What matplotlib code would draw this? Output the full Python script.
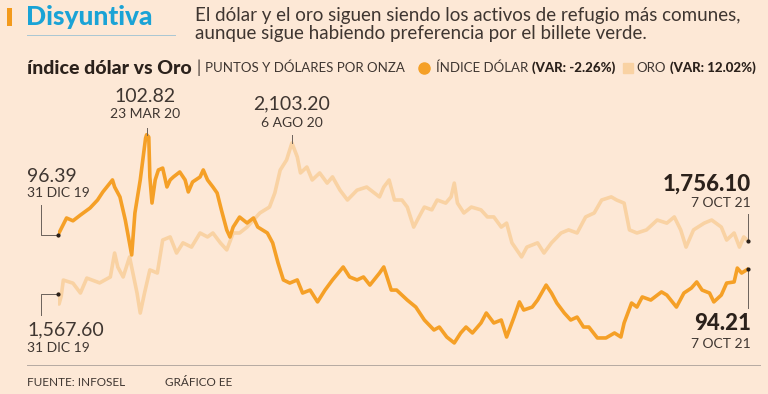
import numpy as np
import matplotlib
matplotlib.use('Agg')
import matplotlib.pyplot as plt

# dias desde el 31 dic 2019
inicio = np.datetime64('2019-12-31')

dolar_dias = [0, 8, 14, 21, 30, 37, 42, 51, 53, 58, 63, 69, 72, 77, 82, 83, 85, 86, 88, 91, 94,
              98, 102, 105, 108, 114, 119, 122, 126, 133, 136, 140, 145, 149, 153, 158, 161,
              164, 170, 177, 183, 187, 196, 201, 206, 211, 217, 224, 229, 236, 243, 250, 257,
              267, 273, 280, 286, 292, 301, 305, 312, 317, 327, 335, 343, 352, 357, 364, 371,
              377, 382, 388, 396, 401, 408, 415, 420, 427, 432, 436, 444, 449, 457, 462, 467,
              474, 480, 486, 492, 497, 505, 513, 521, 527, 530, 537, 542, 547, 555, 565, 570,
              579, 586, 593, 598, 603, 610, 614, 621, 626, 633, 636, 640, 646]
dolar_vals = [96.39, 97.48, 97.30, 97.67, 98.12, 98.63, 99.15, 99.92, 99.47, 98.83, 97.35, 95.11,
              97.80, 99.92, 102.60, 102.82, 102.67, 100.10, 98.44, 99.92, 100.56, 100.68, 99.47, 99.92,
              100.11, 100.43, 99.92, 99.15, 99.79, 100.11, 100.56, 99.92, 99.47, 99.08, 97.99,
              96.71, 96.26, 96.90, 97.54, 97.16, 97.48, 96.90, 96.52, 95.88, 94.60, 93.51, 93.31,
              93.51, 92.67, 92.86, 92.10, 92.86, 93.51, 94.34, 93.70, 93.51, 93.70, 93.18, 93.95,
              94.34, 92.86, 92.86, 92.22, 91.77, 90.94, 90.30, 90.49, 89.85, 89.47, 90.11, 90.49,
              90.11, 90.75, 91.39, 90.75, 90.94, 89.85, 91.13, 92.10, 91.58, 91.77, 92.22, 93.18,
              92.67, 92.03, 91.39, 90.94, 91.13, 90.49, 90.49, 89.79, 89.79, 90.11, 89.85, 90.75,
              92.03, 91.77, 92.42, 92.22, 92.74, 92.54, 91.77, 92.67, 92.99, 93.38, 92.86, 92.67,
              92.10, 92.54, 93.31, 93.38, 94.27, 93.95, 94.21]

oro_dias = [0, 1, 3, 5, 14, 21, 27, 39, 49, 53, 56, 61, 67, 74, 77, 81, 86, 93, 98, 105, 111,
            117, 125, 133, 140, 145, 152, 158, 164, 170, 177, 183, 189, 198, 203, 208, 214, 219,
            224, 227, 233, 238, 245, 252, 257, 264, 271, 280, 289, 301, 305, 310, 315, 322, 327,
            333, 338, 343, 350, 355, 363, 368, 371, 374, 380, 387, 396, 402, 408, 415, 420, 425,
            434, 439, 449, 455, 462, 471, 478, 486, 494, 502, 509, 518, 523, 530, 535, 542, 551,
            561, 570, 577, 583, 588, 595, 605, 612, 621, 626, 633, 638, 642, 646]
oro_vals = [1567.6, 1532, 1560, 1617, 1606, 1571, 1624, 1607, 1628, 1713, 1663, 1628, 1699, 1571,
            1500, 1571, 1653, 1642, 1759, 1770, 1713, 1749, 1734, 1784, 1770, 1784, 1749, 1724,
            1784, 1784, 1805, 1830, 1855, 1876, 1926, 2007, 2043, 2103.2, 2054, 1997, 2018, 1972,
            1997, 1961, 1983, 1936, 1901, 1936, 1947, 1912, 1947, 1972, 1901, 1901, 1876, 1805,
            1841, 1876, 1866, 1901, 1890, 1912, 1961, 1890, 1855, 1876, 1866, 1841, 1841, 1805,
            1819, 1749, 1699, 1734, 1749, 1713, 1749, 1784, 1795, 1784, 1841, 1855, 1901, 1912,
            1901, 1890, 1795, 1784, 1795, 1830, 1819, 1841, 1795, 1734, 1795, 1819, 1830, 1805,
            1759, 1784, 1734, 1770, 1756.1]

fondo = '#fde8d6'
naranja = '#f5a027'
claro = '#f9d2a3'
oscuro = '#2b211b'
gris = '#3f3631'
W, H = 768, 394

dolar_x = inicio + np.array(dolar_dias, dtype='timedelta64[D]')
oro_x = inicio + np.array(oro_dias, dtype='timedelta64[D]')

fig = plt.figure(figsize=(W / 100, H / 100), dpi=100, facecolor=fondo)
plt.rcParams['font.family'] = ['Lato', 'DejaVu Sans']
rend = fig.canvas.get_renderer()

def fx(x):
    return x / W

def fy(y):
    return 1 - y / H

# ejes: oro detras, dolar delante
pos = [fx(58), fy(350), 690 / W, 230 / H]
ax_oro = fig.add_axes(pos)
ax = fig.add_axes(pos)
for a in (ax, ax_oro):
    a.set_facecolor('none')
    a.axis('off')
    a.set_xlim(inicio, oro_x[-1])
ax.set_ylim(89.018, 103.762)
ax_oro.set_ylim(1368.95, 2184.8)

ax_oro.plot(oro_x, oro_vals, color=claro, lw=2.6, solid_joinstyle='round')
ax.plot(dolar_x, dolar_vals, color=naranja, lw=2.6, solid_joinstyle='round')

def a_px(a, x, y):
    px, py = a.transData.transform((matplotlib.dates.date2num(x), y))
    return px, H - py

def linea(pts, color='#6b615b'):
    xs = [fx(p[0]) for p in pts]
    ys = [fy(p[1]) for p in pts]
    fig.add_artist(plt.Line2D(xs, ys, color=color, lw=0.7))

def punto(x, y):
    fig.add_artist(plt.Line2D([fx(x)], [fy(y)], marker='o', ms=2, color=oscuro, lw=0))

def cadena(x, y, piezas):
    # coloca textos uno tras otro
    for txt, kw, gap in piezas:
        t = fig.text(fx(x), fy(y), txt, va='center', **kw)
        x = t.get_window_extent(rend).x1 + gap

# anotaciones
x0, y0 = a_px(ax, dolar_x[0], dolar_vals[0])
linea([(40.5, 205), (40.5, y0), (x0, y0)])
punto(x0, y0)
fig.text(fx(27), fy(176), '96.39', fontsize=14, color=gris, va='center')
fig.text(fx(27), fy(193), '31 DIC 19', fontsize=10, color=gris, va='center')

x0, y0 = a_px(ax_oro, oro_x[0], oro_vals[0])
linea([(x0, y0), (40.5, y0), (40.5, 315)])
punto(x0, y0)
fig.text(fx(27), fy(330), '1,567.60', fontsize=14, color=gris, va='center')
fig.text(fx(27), fy(348), '31 DIC 19', fontsize=10, color=gris, va='center')

i = int(np.argmax(dolar_vals))
xp, yp = a_px(ax, dolar_x[i], dolar_vals[i])
linea([(xp, 128), (xp, yp)])
fig.text(fx(145), fy(96), '102.82', fontsize=14, color=gris, ha='center', va='center')
fig.text(fx(145), fy(114), '23 MAR 20', fontsize=10, color=gris, ha='center', va='center')

i = int(np.argmax(oro_vals))
xp, yp = a_px(ax_oro, oro_x[i], oro_vals[i])
linea([(xp, 135), (xp, yp)])
fig.text(fx(292), fy(104), '2,103.20', fontsize=14, color=gris, ha='center', va='center')
fig.text(fx(292), fy(123), '6 AGO 20', fontsize=10, color=gris, ha='center', va='center')

xe, ye = a_px(ax_oro, oro_x[-1], oro_vals[-1])
linea([(xe, 214), (xe, ye)])
punto(xe, ye)
fig.text(fx(751), fy(184), '1,756.10', fontsize=16, color=oscuro, weight='black', ha='right', va='center')
fig.text(fx(751), fy(203), '7 OCT 21', fontsize=10, color=gris, ha='right', va='center')

xe, ye = a_px(ax, dolar_x[-1], dolar_vals[-1])
linea([(xe, ye), (xe, 308)])
punto(xe, ye)
fig.text(fx(751), fy(324), '94.21', fontsize=16, color=oscuro, weight='black', ha='right', va='center')
fig.text(fx(751), fy(344), '7 OCT 21', fontsize=10, color=gris, ha='right', va='center')

# titulo
fig.add_artist(plt.Rectangle((fx(7), fy(26)), 5 / W, 18 / H, color='#f39a1c', lw=0))
fig.text(fx(26), fy(17), 'Disyuntiva', fontsize=19, weight='black', color='#1aa3d6', va='center')
linea([(27, 35), (175, 35)], color='#a9c6d3')
fig.text(fx(195), fy(15), 'El dólar y el oro siguen siendo los activos de refugio más comunes,',
         fontsize=13.5, color=gris, va='center')
fig.text(fx(195), fy(34), 'aunque sigue habiendo preferencia por el billete verde.',
         fontsize=13.5, color=gris, va='center')

# leyenda
normal = dict(fontsize=9.5, color=gris)
negrita = dict(fontsize=9.5, color=oscuro, weight='black')
cadena(27, 68, [('índice dólar vs Oro', dict(fontsize=14, color=oscuro, weight='black'), 5),
                ('|', dict(fontsize=12, color=gris), 4),
                ('PUNTOS Y DÓLARES POR ONZA', normal, 0)])
fig.add_artist(plt.Line2D([fx(424)], [fy(68)], marker='o', ms=8, color=naranja, lw=0))
cadena(436, 68, [('ÍNDICE DÓLAR', normal, 4), ('(VAR: -2.26%)', negrita, 0)])
fig.add_artist(plt.Line2D([fx(628)], [fy(68)], marker='s', ms=7, color=claro, lw=0))
cadena(636, 68, [('ORO', normal, 4), ('(VAR: 12.02%)', negrita, 0)])

# pie
linea([(27, 365), (760, 365)], color='#b5aaa2')
fig.text(fx(27), fy(382), 'FUENTE: INFOSEL', fontsize=8.5, color=gris, va='center')
fig.text(fx(165), fy(382), 'GRÁFICO EE', fontsize=8.5, color=gris, va='center')

fig.savefig('out.png', dpi=100, facecolor=fondo)
